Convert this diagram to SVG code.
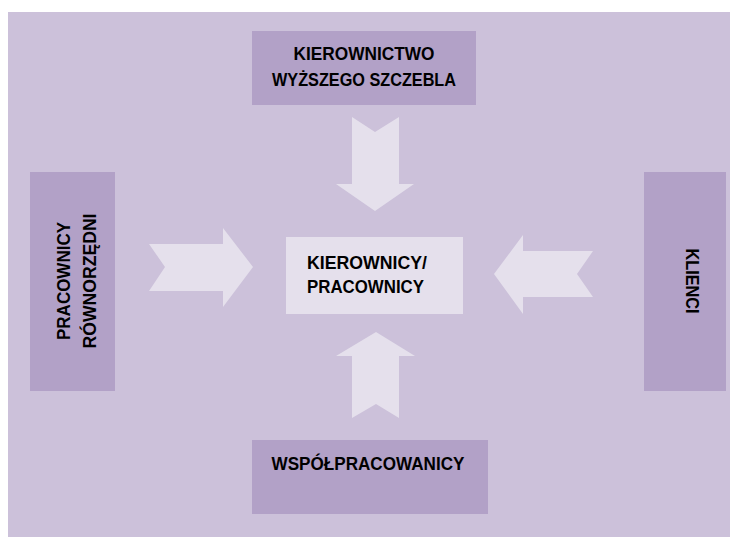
<svg xmlns="http://www.w3.org/2000/svg" width="730" height="537" viewBox="0 0 730 537">
<style>
.bg{fill:#ccc1da}
.box{fill:#b2a1c7}
.arrow{fill:#e5e0ec}
.center{fill:#e5e0ec}
text{font-family:"Liberation Sans",Arial,sans-serif;font-weight:bold;font-size:18px;fill:#000}
</style>
<rect width="730" height="537" fill="#ffffff"/>
<rect class="bg" x="8" y="12" width="722" height="525"/>
<g id="connectors">
<polygon class="arrow" points="352,117 375,132 399,117 399,184 414,184 375,211 336,184 352,184"/>
<polygon class="arrow" points="149,244 223,244 223,228 253,267 223,307 223,291 149,291 165,267"/>
<polygon class="arrow" points="593,251 523,251 523,235 494,274 523,314 523,297 593,297 577,274"/>
<polygon class="arrow" points="352,418 376,404 399,418 399,356 415,356 376,332 336,356 352,356"/>
</g>
<g id="top">
<rect class="box" x="252" y="31" width="224" height="74"/>
<text x="364" y="60" text-anchor="middle" textLength="141" lengthAdjust="spacingAndGlyphs">KIEROWNICTWO</text>
<text x="364" y="86" text-anchor="middle" textLength="184" lengthAdjust="spacingAndGlyphs">WYŻSZEGO SZCZEBLA</text>
</g>
<g id="left">
<rect class="box" x="30" y="172" width="85" height="219"/>
<text transform="translate(70,281) rotate(-90)" text-anchor="middle" textLength="118" lengthAdjust="spacingAndGlyphs">PRACOWNICY</text>
<text transform="translate(96,281) rotate(-90)" text-anchor="middle" textLength="135" lengthAdjust="spacingAndGlyphs">RÓWNORZĘDNI</text>
</g>
<g id="center">
<rect class="center" x="286" y="237" width="177" height="77"/>
<text x="307" y="269" textLength="120" lengthAdjust="spacingAndGlyphs">KIEROWNICY/</text>
<text x="307" y="293" textLength="117" lengthAdjust="spacingAndGlyphs">PRACOWNICY</text>
</g>
<g id="right">
<rect class="box" x="644" y="172" width="82" height="219"/>
<text transform="translate(686,281) rotate(90)" text-anchor="middle" textLength="65" lengthAdjust="spacingAndGlyphs">KLIENCI</text>
</g>
<g id="bottom">
<rect class="box" x="252" y="440" width="236" height="74"/>
<text x="368" y="470" text-anchor="middle" textLength="193" lengthAdjust="spacingAndGlyphs">WSPÓŁPRACOWANICY</text>
</g>
</svg>
